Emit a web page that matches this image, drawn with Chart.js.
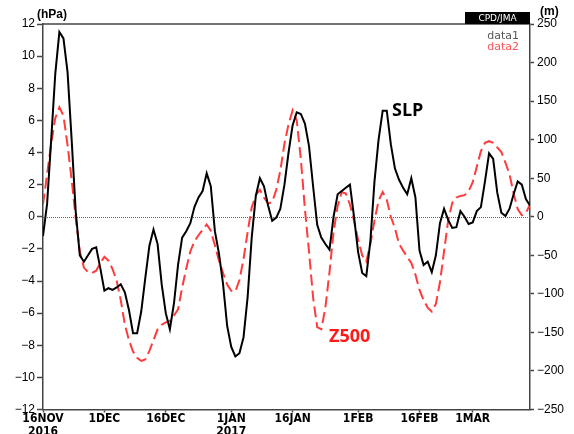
<!DOCTYPE html>
<html>
<head>
<meta charset="utf-8">
<script src="https://cdn.jsdelivr.net/npm/chart.js@4.4.1/dist/chart.umd.min.js"></script>
<style>
  html, body { margin: 0; padding: 0; background: #fff; }
</style>
</head>
<body>
<canvas id="chart" width="574" height="434"></canvas>
<script>
// day index from 16 Nov 2016 (day 0) to 15 Mar 2017 (day 119)
const days = Array.from({ length: 120 }, (_, i) => i);

// sea level pressure anomaly (hPa), left axis
const slp = [
  -1.2, 0.8, 4.8, 8.9, 11.5, 11.1, 9.0, 4.8, 0.3, -2.4,
  -2.8, -2.4, -2.0, -1.9, -3.2, -4.6, -4.45, -4.55, -4.4, -4.2,
  -4.7, -5.8, -7.25, -7.25, -5.9, -3.8, -1.8, -0.8, -1.7, -4.2,
  -6.0, -7.0, -5.4, -3.0, -1.3, -0.9, -0.4, 0.6, 1.2, 1.6,
  2.7, 1.9, -0.9, -2.3, -4.2, -6.8, -8.1, -8.7, -8.5, -7.5,
  -5.0, -1.3, 1.3, 2.4, 1.9, 0.7, -0.25, -0.05, 0.5, 2.0,
  4.0, 5.7, 6.5, 6.4, 5.8, 4.4, 1.9, -0.5, -1.3, -1.7,
  -2.05, 0.0, 1.4, 1.6, 1.8, 2.0, 0.0, -2.2, -3.5, -3.7,
  -1.5, 2.2, 4.8, 6.6, 6.6, 4.5, 3.0, 2.3, 1.8, 1.4,
  2.4, 1.2, -2.1, -3.0, -2.8, -3.45, -2.4, -0.4, 0.5, -0.2,
  -0.7, -0.65, 0.35, 0.0, -0.45, -0.35, 0.35, 0.6, 2.2, 3.95,
  3.6, 1.5, 0.25, 0.05, 0.5, 1.4, 2.2, 2.0, 1.1, 0.7
];

// 500 hPa height anomaly (m), right axis
const z500 = [
  16, 55, 95, 128, 142, 131, 93, 48, -2, -45,
  -66, -72, -73, -70, -60, -52, -57, -68, -83, -108,
  -140, -160, -175, -183, -187, -185, -174, -160, -146, -140,
  -137, -135, -128, -120, -92, -67, -45, -32, -24, -17,
  -10, -18, -37, -57, -73, -88, -96, -97, -82, -55,
  -20, 12, 28, 35, 25, 17, 19, 35, 60, 95,
  120, 138, 125, 75, 10, -45, -105, -143, -146, -118,
  -72, -20, 14, 32, 30, 16, -5, -30, -50, -58,
  -35, -5, 21, 32, 22, 0, -15, -35, -44, -52,
  -60, -75, -95, -108, -118, -123, -113, -85, -45, -5,
  18, 25, 27, 28, 33, 45, 65, 85, 96, 98,
  96, 90, 84, 70, 55, 30, 10, 2, 5, 16
];

const tickDays = [0, 15, 30, 46, 61, 77, 92, 105];
const tickLabels = [['16NOV', '2016'], '1DEC', '16DEC', ['1JAN', '2017'], '16JAN', '1FEB', '16FEB', '1MAR'];

const minus = v => String(v).replace('-', '\u2212');

// zero line, frame top, labels and the legend text
const decorations = {
  id: 'decorations',
  beforeDatasetsDraw(chart) {
    const { ctx, chartArea } = chart;
    const y0 = Math.round(chart.scales.y.getPixelForValue(0)) + 0.5;
    ctx.save();
    ctx.strokeStyle = '#666';
    ctx.lineWidth = 1;
    ctx.setLineDash([1, 1]);
    ctx.beginPath();
    ctx.moveTo(chartArea.left, y0);
    ctx.lineTo(chartArea.right, y0);
    ctx.stroke();
    ctx.restore();
  },
  afterDraw(chart) {
    const { ctx, chartArea } = chart;
    ctx.save();
    ctx.strokeStyle = '#444';
    ctx.lineWidth = 1.5;
    ctx.beginPath();
    ctx.moveTo(chartArea.left, chartArea.top);
    ctx.lineTo(chartArea.right, chartArea.top);
    ctx.stroke();

    // CPD/JMA box
    ctx.fillStyle = '#000';
    ctx.fillRect(465, 12, 65, 12);
    ctx.fillStyle = '#fff';
    ctx.font = '9px "DejaVu Sans"';
    ctx.textAlign = 'center';
    ctx.textBaseline = 'middle';
    ctx.fillText('CPD/JMA', 497.5, 18.5);

    // units
    ctx.fillStyle = '#000';
    ctx.font = 'bold 12px "Liberation Sans"';
    ctx.textAlign = 'left';
    ctx.textBaseline = 'middle';
    ctx.fillText('(hPa)', 37, 15);
    ctx.fillText('(m)', 540, 12);

    // legend from dataset labels
    ctx.font = '11px "DejaVu Sans"';
    ctx.textAlign = 'right';
    ctx.fillStyle = '#555';
    ctx.fillText(chart.data.datasets[0].label, 519, 36);
    ctx.fillStyle = '#ff5555';
    ctx.fillText(chart.data.datasets[1].label, 519, 47);

    // series names
    ctx.font = 'bold 18px "Open Sans"';
    ctx.textAlign = 'left';
    ctx.fillStyle = '#000';
    ctx.fillText('SLP', 392, 111);
    ctx.fillStyle = '#ff1a1a';
    ctx.fillText('Z500', 329, 337);
    ctx.restore();
  }
};

new Chart(document.getElementById('chart'), {
  type: 'line',
  data: {
    datasets: [
      {
        label: 'data1',
        data: days.map((d, i) => ({ x: d, y: slp[i] })),
        borderColor: '#000',
        borderWidth: 2,
        pointRadius: 0,
        tension: 0,
        yAxisID: 'y'
      },
      {
        label: 'data2',
        data: days.map((d, i) => ({ x: d, y: z500[i] })),
        borderColor: '#ff3b3b',
        borderWidth: 2,
        borderDash: [11, 5],
        pointRadius: 0,
        tension: 0,
        yAxisID: 'y2'
      }
    ]
  },
  options: {
    responsive: false,
    animation: false,
    layout: { padding: { top: 24, left: 0, right: 0, bottom: 0 } },
    plugins: {
      legend: { display: false },
      tooltip: { enabled: false }
    },
    scales: {
      x: {
        type: 'linear',
        min: 0,
        max: 119,
        afterBuildTicks: s => { s.ticks = tickDays.map(v => ({ value: v })); },
        afterFit: s => { s.height = 24.5; },
        ticks: {
          autoSkip: false,
          maxRotation: 0,
          padding: 0,
          color: '#000',
          font: { family: '"DejaVu Sans Condensed", "Liberation Sans Narrow", "Liberation Sans"', size: 12, weight: 'bold', lineHeight: 1.1 },
          callback: v => tickLabels[tickDays.indexOf(v)]
        },
        grid: { drawOnChartArea: false, tickLength: 3, tickColor: '#444', tickWidth: 1.5 },
        border: { color: '#444', width: 1.5 }
      },
      y: {
        position: 'left',
        min: -12,
        max: 12,
        afterFit: s => { s.width = 43; },
        ticks: {
          stepSize: 2,
          padding: 2,
          color: '#000',
          font: { family: '"Liberation Sans"', size: 12 },
          callback: minus
        },
        grid: { drawOnChartArea: false, tickLength: 6, tickColor: '#444', tickWidth: 1.5 },
        border: { color: '#444', width: 1.5 }
      },
      y2: {
        position: 'right',
        min: -250,
        max: 250,
        afterFit: s => { s.width = 44; },
        ticks: {
          stepSize: 50,
          padding: 3,
          color: '#000',
          font: { family: '"Liberation Sans"', size: 12 },
          callback: minus
        },
        grid: { drawOnChartArea: false, tickLength: 4, tickColor: '#444', tickWidth: 1.5 },
        border: { color: '#444', width: 1.5 }
      }
    }
  },
  plugins: [decorations]
});
</script>
</body>
</html>
